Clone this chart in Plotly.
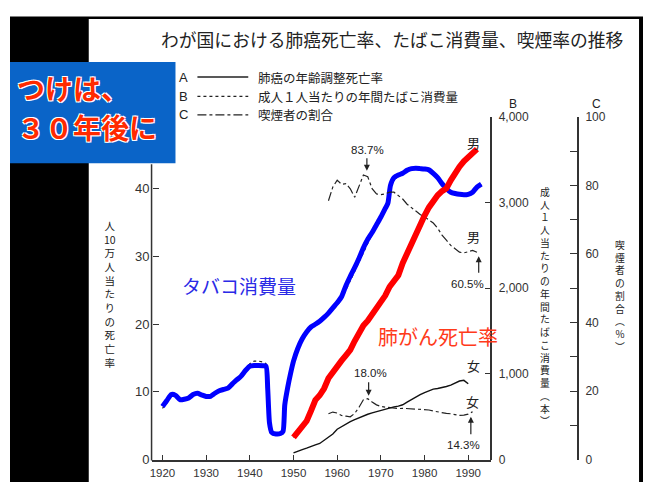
import plotly.graph_objects as go

# the page body keeps its default 8px margin, so the figure is drawn 8px in from the corner
OFF = 8
W, H = 651 - OFF, 490 - OFF
FJP = "Noto Sans CJK JP"
FNUM = "Liberation Sans"

# ---------------- data ----------------
# B: adult per-capita annual cigarette consumption (blue overlay)
yr_tob = [1920, 1921, 1922, 1923, 1924, 1925, 1926, 1927, 1928, 1929, 1930, 1931, 1932, 1933,
          1934, 1935, 1936, 1937, 1938, 1939, 1940, 1941, 1942, 1943, 1943.7, 1944.1, 1944.5,
          1945, 1946, 1947, 1947.6, 1948, 1948.7, 1949.3, 1950, 1951, 1952, 1953, 1954, 1955,
          1956, 1957, 1958, 1959, 1960, 1961, 1962, 1963, 1964, 1965, 1966, 1967, 1968, 1969,
          1970, 1971, 1971.6, 1972.2, 1973, 1974, 1975, 1976, 1977, 1978, 1979, 1980, 1981,
          1982, 1983, 1984, 1985, 1986, 1987, 1988, 1989, 1990, 1991, 1992, 1993]
tob_blue = [620, 690, 760, 750, 700, 705, 720, 760, 775, 755, 738, 740, 775, 805,
            820, 835, 885, 930, 975, 1040, 1090, 1098, 1098, 1095, 1090, 820, 430,
            320, 300, 305, 330, 640, 850, 1000, 1150, 1300, 1410, 1490, 1548, 1580,
            1615, 1660, 1710, 1770, 1830, 1900, 2030, 2140, 2240, 2350, 2470, 2570, 2650, 2740,
            2830, 2930, 2990, 3200, 3290, 3320, 3340, 3375, 3395, 3400, 3395, 3390, 3380,
            3340, 3290, 3220, 3160, 3120, 3105, 3095, 3090, 3095, 3120, 3180, 3215]
# B: original dotted line
tob_dot = [600, 660, 740, 745, 705, 700, 715, 750, 770, 760, 740, 738, 765, 800,
           815, 830, 870, 920, 980, 1060, 1120, 1150, 1150, 1140, 1120, 900, 480,
           330, 300, 300, 320, 600, 830, 990, 1140, 1290, 1400, 1480, 1540, 1575,
           1605, 1645, 1690, 1745, 1800, 1870, 1980, 2080, 2190, 2310, 2430, 2540, 2630, 2720,
           2810, 2910, 2980, 3170, 3270, 3300, 3330, 3365, 3390, 3395, 3390, 3385, 3370,
           3330, 3280, 3210, 3155, 3115, 3100, 3090, 3085, 3090, 3110, 3170, 3210]

# A: lung cancer age-adjusted death rate (per 100,000)
yr_lung = [1950, 1951, 1952, 1953, 1954, 1955, 1956, 1957, 1958, 1959, 1960, 1961, 1962, 1963,
           1964, 1965, 1966, 1967, 1968, 1969, 1970, 1971, 1972, 1973, 1974, 1975, 1976, 1977,
           1978, 1979, 1980, 1981, 1982, 1983, 1984, 1985, 1986, 1987, 1988, 1989, 1990, 1991, 1992]
lung_male = [3.3, 4.2, 5.0, 5.7, 7.2, 8.8, 9.5, 10.5, 12.0, 13.0, 13.8, 14.6, 15.4, 16.2,
             17.5, 18.8, 19.8, 20.5, 21.4, 22.2, 23.0, 24.2, 25.5, 26.3, 27.2, 29.0, 30.5, 31.8,
             33.3, 34.8, 36.0, 37.2, 38.2, 39.0, 39.6, 40.0, 41.2, 42.3, 43.2, 44.0, 44.6, 45.2, 45.8]
yr_lung_f = [1950, 1951, 1952, 1953, 1954, 1955, 1956, 1957, 1958, 1959, 1960, 1961, 1962, 1963,
             1964, 1965, 1966, 1967, 1968, 1969, 1970, 1971, 1972, 1973, 1974, 1975, 1976, 1977,
             1978, 1979, 1980, 1981, 1982, 1983, 1984, 1985, 1986, 1987, 1988, 1989, 1990]
lung_female = [1.0, 1.3, 1.5, 1.7, 2.0, 2.2, 2.4, 2.9, 3.3, 3.8, 4.5, 4.9, 5.3, 5.6,
               5.9, 6.2, 6.5, 6.7, 6.9, 7.1, 7.3, 7.5, 7.7, 7.8, 7.9, 8.1, 8.5, 8.9,
               9.3, 9.6, 9.9, 10.2, 10.4, 10.5, 10.6, 10.8, 11.0, 11.3, 11.6, 11.7, 11.2]

# C: smoking prevalence (%)
yr_smk = [1958, 1959, 1960, 1961, 1962, 1963, 1964, 1965, 1966, 1967, 1968, 1969, 1970, 1971,
          1972, 1973, 1974, 1975, 1976, 1977, 1978, 1979, 1980, 1981, 1982, 1983, 1984, 1985,
          1986, 1987, 1988, 1989, 1990, 1991, 1992]
smk_male = [75.5, 79.5, 81.5, 80.3, 80.5, 79.0, 76.5, 79.5, 83.0, 82.5, 79.0, 77.5, 77.3, 77.5,
            78.0, 78.0, 77.0, 76.0, 74.5, 73.5, 72.5, 71.5, 70.8, 70.0, 69.0, 67.5, 65.5, 64.0,
            62.5, 61.5, 60.5, 60.3, 60.6, 61.0, 60.5]
yr_smk_f = [1958, 1959, 1960, 1961, 1962, 1963, 1964, 1965, 1966, 1967, 1968, 1969, 1970, 1971,
            1972, 1973, 1974, 1975, 1976, 1977, 1978, 1979, 1980, 1981, 1982, 1983, 1984, 1985,
            1986, 1987, 1988, 1989, 1990, 1991]
smk_female = [13.4, 13.9, 13.6, 12.9, 12.7, 12.5, 13.5, 15.3, 17.5, 17.8, 16.8, 16.0, 15.5, 15.3,
              15.3, 15.1, 14.9, 15.0, 14.9, 15.0, 14.9, 14.8, 14.6, 14.5, 14.2, 13.9, 13.7, 13.5,
              13.4, 13.2, 12.9, 13.0, 13.3, 14.0]

x_ticks = [1920, 1930, 1940, 1950, 1960, 1970, 1980, 1990]
left_ticks = [0, 10, 20, 30, 40]
b_ticks = [0, 1000, 2000, 3000, 4000]
c_ticks = [0, 20, 40, 60, 80, 100]
c_minor = [10, 30, 50, 70, 90]

title_text = "わが国における肺癌死亡率、たばこ消費量、喫煙率の推移"
legend_items = [("A", "solid", "肺癌の年齢調整死亡率"),
                ("B", "dot", "成人１人当たりの年間たばこ消費量"),
                ("C", "dashdot", "喫煙者の割合")]
left_title = ["人", "10", "万", "人", "当", "た", "り", "の", "死", "亡", "率"]
b_title = ["成", "人", "１", "人", "当", "た", "り", "の", "年", "間", "た", "ば", "こ",
           "消", "費", "量", "︵", "本", "︶"]
c_title = ["喫", "煙", "者", "の", "割", "合", "︵", "%", "︶"]
callout = ["つけは、", "３０年後に"]


def PX(x):
    return (x - OFF) / W


def PY(y):
    return 1 - (y - OFF) / H


fig = go.Figure()

# base axis y = B (tobacco), y2 = C (smoking rate), y3 = left (death rate)
fig.add_trace(go.Scatter(x=yr_tob, y=tob_dot, yaxis="y", mode="lines",
                         line=dict(color="#222", width=1.2, dash="dot"), hoverinfo="skip"))
fig.add_trace(go.Scatter(x=yr_tob, y=tob_blue, yaxis="y", mode="lines",
                         line=dict(color="#0000ff", width=5, shape="spline", smoothing=0.6),
                         hoverinfo="skip"))
fig.add_trace(go.Scatter(x=yr_smk, y=smk_male, yaxis="y2", mode="lines",
                         line=dict(color="#222", width=1.2, dash="dashdot"), hoverinfo="skip"))
fig.add_trace(go.Scatter(x=yr_smk_f, y=smk_female, yaxis="y2", mode="lines",
                         line=dict(color="#222", width=1.2, dash="dashdot"), hoverinfo="skip"))
fig.add_trace(go.Scatter(x=yr_lung_f, y=lung_female, yaxis="y3", mode="lines",
                         line=dict(color="#111", width=1.4), hoverinfo="skip"))
fig.add_trace(go.Scatter(x=yr_lung, y=lung_male, yaxis="y3", mode="lines",
                         line=dict(color="#111", width=1.4), hoverinfo="skip"))
fig.add_trace(go.Scatter(x=yr_lung, y=lung_male, yaxis="y3", mode="lines",
                         line=dict(color="#ff0000", width=6), hoverinfo="skip"))

tickfont = dict(family=FNUM, size=12, color="#333")
ydom = [PY(467), PY(113)]

fig.update_layout(
    width=W, height=H, margin=dict(l=0, r=0, t=0, b=0),
    paper_bgcolor="white", plot_bgcolor="rgba(0,0,0,0)", showlegend=False,
    xaxis=dict(domain=[PX(150), PX(490)], range=[1917.5, 1995.1], tickvals=x_ticks,
               ticks="inside", ticklen=5, tickwidth=1.2, tickcolor="#333",
               showline=True, linecolor="#333", linewidth=1.5, showgrid=False,
               zeroline=False, tickfont=dict(family=FNUM, size=11.5, color="#333"),
               anchor="y", ticklabelstandoff=2),
    yaxis=dict(domain=ydom, range=[0, 4000], side="right", anchor="free", position=PX(491),
               tickvals=b_ticks, tickformat=",d", ticks="inside", ticklen=6, tickwidth=1.2,
               tickcolor="#333", showline=True, linecolor="#333", linewidth=1.5,
               showgrid=False, zeroline=False, tickfont=tickfont, ticklabelstandoff=4),
    yaxis2=dict(overlaying="y", range=[0, 100], side="right", anchor="free", position=PX(578),
                tickvals=c_ticks, ticks="inside", ticklen=7, tickwidth=1.2, tickcolor="#333",
                minor=dict(tickvals=c_minor, ticks="inside", ticklen=7, tickwidth=1.2,
                           tickcolor="#333"),
                showline=True, linecolor="#333", linewidth=1.5, showgrid=False,
                zeroline=False, tickfont=tickfont, ticklabelstandoff=4),
    yaxis3=dict(overlaying="y", range=[0, 354 / 7], side="left", anchor="free", position=PX(150),
                tickvals=left_ticks, ticks="inside", ticklen=6, tickwidth=1.2, tickcolor="#333",
                showline=False, showgrid=False, zeroline=False,
                tickfont=dict(family=FNUM, size=13, color="#333"), ticklabelstandoff=2),
)

shapes = []
# page framing
shapes.append(dict(type="rect", xref="paper", yref="paper", x0=0, x1=1, y0=PY(12), y1=PY(9.5),
                   fillcolor="black", line=dict(width=0)))
shapes.append(dict(type="rect", xref="paper", yref="paper", x0=0, x1=PX(87), y0=0, y1=PY(10),
                   fillcolor="black", line=dict(width=0)))
shapes.append(dict(type="rect", xref="paper", yref="paper", x0=PX(639), x1=1, y0=0, y1=PY(10),
                   fillcolor="black", line=dict(width=0)))
# blue call-out box
shapes.append(dict(type="rect", xref="paper", yref="paper", x0=0, x1=PX(174), y0=PY(161),
                   y1=PY(56.5), fillcolor="#0a64c8", line=dict(width=0), layer="above"))
# left axis line
shapes.append(dict(type="line", xref="paper", yref="paper", x0=PX(150), x1=PX(150), y0=PY(467.7),
                   y1=PY(162), line=dict(color="#333", width=1.5)))

# legend sample lines
leg_y = [72, 92, 111]
for (lab, dash, txt), yy in zip(legend_items, leg_y):
    shapes.append(dict(type="line", xref="paper", yref="paper", x0=PX(196), x1=PX(247),
                       y0=PY(yy), y1=PY(yy), line=dict(color="#222", width=1.3, dash=dash)))
fig.update_layout(shapes=shapes)

ann = []


def text(x, y, t, size, color="#222", family=FJP, xanchor="center", **kw):
    ann.append(dict(x=PX(x), y=PY(y), xref="paper", yref="paper", text=t, showarrow=False,
                    font=dict(family=family, size=size, color=color), xanchor=xanchor,
                    yanchor="middle", **kw))


def vtext(tokens, x, yc, size, color="#222"):
    text(x, yc, "<br>".join(tokens), size, color)


# title
text(392, 33, title_text, 17.8, "#222")

# legend
for (lab, dash, txt), yy in zip(legend_items, leg_y):
    text(182, yy, lab, 13, "#222", family=FNUM)
    text(255, yy, txt, 12.5, "#222", xanchor="left")

# call-out text
shadow = "1px 1px 0 #fff, -1px -1px 0 #fff, 1px -1px 0 #fff, -1px 1px 0 #fff"
for s, yy in zip(callout, [83, 124]):
    ann.append(dict(x=PX(13), y=PY(yy), xref="paper", yref="paper", text="<b>%s</b>" % s,
                    showarrow=False, xanchor="left", yanchor="middle",
                    font=dict(family=FJP, size=28, color="#ff2a00", shadow=shadow)))

# axis titles (vertical, one glyph per line)
vtext(left_title, 108, 296, 10.5)
vtext(b_title, 545, 309, 9.8)
vtext(c_title, 620, 298, 9.8)
text(513, 100, "B", 12, "#222", family=FNUM)
text(596, 100, "C", 12, "#222", family=FNUM)

# overlay labels
text(238, 287, "タバコ消費量", 19, "#2a2ae6")
text(437, 340, "肺がん死亡率", 20, "#ff3a1a")

# series labels
text(473, 140, "男", 13)
text(473, 237, "男", 13)
text(473, 370, "女", 13)
text(472, 407, "女", 13)
text(367, 147, "83.7%", 11.5, family=FNUM)
text(467, 286, "60.5%", 11.5, family=FNUM)
text(370, 378, "18.0%", 11.5, family=FNUM)
text(463, 452, "14.3%", 11.5, family=FNUM)


# arrows
def arrow(xv, yv, yref, ay, standoff):
    ann.append(dict(x=xv, y=yv, xref="x", yref=yref, ax=0, ay=ay, text="", showarrow=True,
                    arrowhead=2, arrowsize=1, arrowwidth=1.2, arrowcolor="#222",
                    standoff=standoff))


arrow(1966.8, 83.7, "y2", -16, 2)
arrow(1992.4, 60.5, "y2", 22, 4)
arrow(1967.2, 17.8, "y2", -18, 3)
arrow(1990.6, 14.0, "y2", 24, 5)

fig.update_layout(annotations=ann)
fig.write_html("out.html")
